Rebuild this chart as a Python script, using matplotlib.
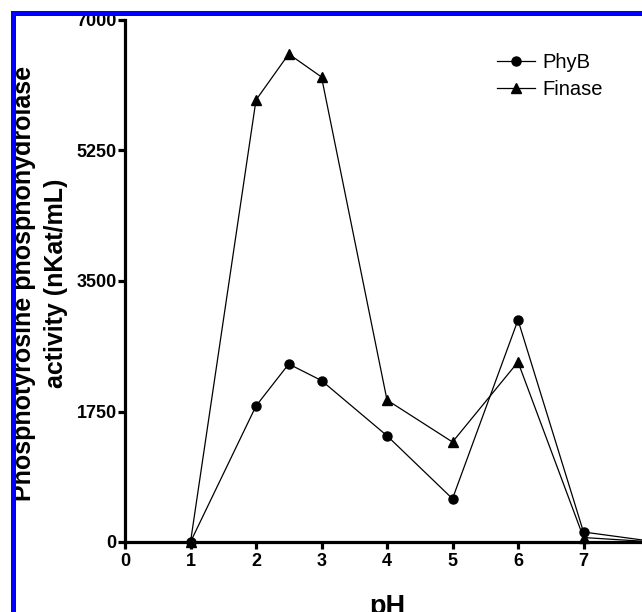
import numpy as np
import matplotlib
matplotlib.use("Agg")
import matplotlib.pyplot as plt
from matplotlib.patches import Rectangle

plt.rcParams['font.family'] = ['Liberation Sans', 'DejaVu Sans']

# data
ph = [1, 2, 2.5, 3, 4, 5, 6, 7, 8]
phyb = [0, 1824, 2387, 2165, 1425, 580, 2977, 134, 15]
finase = [0, 5927, 6544, 6236, 1904, 1341, 2414, 60, 5]

yticks = [0, 1750, 3500, 5250, 7000]
xticks = [0, 1, 2, 3, 4, 5, 6, 7]

W, H = 642, 612
fig = plt.figure(figsize=(W / 100, H / 100), dpi=100)
# axes runs a bit past the right edge (reference is cropped there)
ax = fig.add_axes([125 / W, (H - 542) / H, 524 / W, 522 / H])

ax.plot(ph, phyb, color='black', lw=0.9, marker='o', ms=6.5, label='PhyB', clip_on=False, zorder=3)
ax.plot(ph, finase, color='black', lw=0.9, marker='^', ms=6.5, label='Finase', clip_on=False, zorder=3)

ax.set_xlim(0, 8)
ax.set_ylim(0, 7000)
ax.set_xticks(xticks)
ax.set_yticks(yticks)

for s in ['top', 'right']:
    ax.spines[s].set_visible(False)
for s in ['left', 'bottom']:
    ax.spines[s].set_linewidth(2.3)
ax.tick_params(direction='out', length=5, width=2.3, labelsize=13)
ax.tick_params(axis='y', pad=1)
ax.tick_params(axis='x', pad=3)
for lab in ax.get_xticklabels() + ax.get_yticklabels():
    lab.set_fontweight('bold')

leg = ax.legend(loc='upper left', bbox_to_anchor=(487 / W, (H - 43) / H),
                bbox_transform=fig.transFigure, frameon=False, fontsize=14.5,
                handlelength=1.9, handletextpad=0.35, labelspacing=0.4,
                borderpad=0, markerscale=1.0)

fig.text(40 / W, (H - 283) / H, 'Phosphotyrosine phosphohydrolase\nactivity (nKat/mL)',
         rotation=90, ha='center', va='center', multialignment='center',
         fontsize=18, fontweight='bold', linespacing=1.4)
fig.text(387 / W, (H - 614) / H, 'pH', ha='center', va='baseline',
         fontsize=19.5, fontweight='bold')

# blue frame (only top and left edges show)
fig.patches.append(Rectangle((12.5 / W, -0.2), 2.0, (H - 12.5) / H + 0.2,
                             transform=fig.transFigure, fill=False,
                             edgecolor='#0000ff', lw=3.6, zorder=10))

fig.savefig('out.png', dpi=100)
